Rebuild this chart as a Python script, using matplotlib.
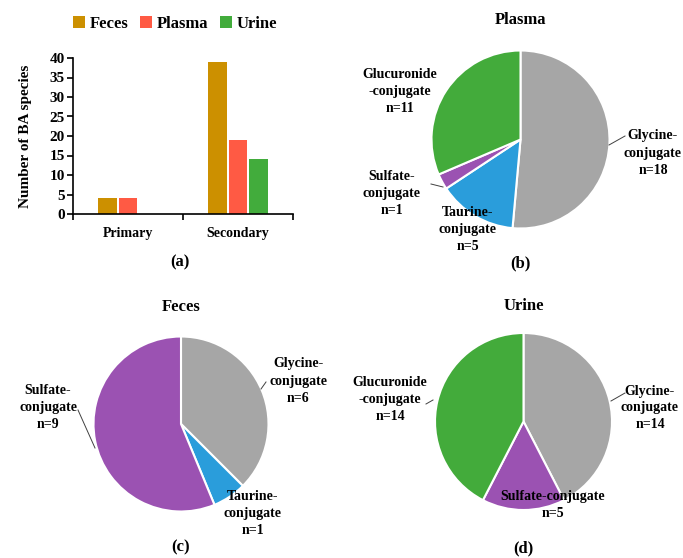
import matplotlib
matplotlib.use("Agg")
import matplotlib.pyplot as plt
import numpy as np

plt.rcParams['font.family'] = ['Liberation Serif', 'DejaVu Serif']
plt.rcParams['font.weight'] = 'bold'

# ---- data ----
bar_categories = ["Primary", "Secondary"]
bar_series = ["Feces", "Plasma", "Urine"]
feces_counts = [4, 39]
plasma_counts = [4, 19]
urine_counts = [0, 14]
bar_colors = ["#CC9000", "#FF5A44", "#42AC3C"]
y_ticks = [0, 5, 10, 15, 20, 25, 30, 35, 40]

plasma_labels = ["Glycine-\nconjugate\nn=18", "Taurine-\nconjugate\nn=5",
                 "Sulfate-\nconjugate\nn=1", "Glucuronide\n-conjugate\nn=11"]
plasma_values = [18, 5, 1, 11]
plasma_colors = ["#A6A6A6", "#2A9DDB", "#9B52B2", "#43AB3B"]

feces_labels = ["Glycine-\nconjugate\nn=6", "Taurine-\nconjugate\nn=1",
                "Sulfate-\nconjugate\nn=9"]
feces_values = [6, 1, 9]
feces_colors = ["#A6A6A6", "#2A9DDB", "#9B52B2"]

urine_labels = ["Glycine-\nconjugate\nn=14", "Sulfate-conjugate\nn=5",
                "Glucuronide\n-conjugate\nn=14"]
urine_values = [14, 5, 14]
urine_colors = ["#A6A6A6", "#9B52B2", "#43AB3B"]

W, H = 683, 558
fig = plt.figure(figsize=(W / 100, H / 100), dpi=100)
fig.patch.set_facecolor("white")


def px_axes(left, top, right, bottom):
    return fig.add_axes([left / W, 1 - bottom / H, (right - left) / W, (bottom - top) / H])


# ---- (a) bar chart ----
ax = px_axes(73, 58, 293, 214)
x = np.arange(len(bar_categories))
bw = 0.17
step = 0.185
for i, (vals, col, name) in enumerate(zip([feces_counts, plasma_counts, urine_counts], bar_colors, bar_series)):
    ax.bar(x + (i - 1) * step, vals, width=bw, color=col, label=name, zorder=2)
ax.set_xlim(-0.5, 1.5)
ax.set_ylim(0, 40)
ax.set_yticks(y_ticks)
ax.set_yticklabels([str(t) for t in y_ticks], fontsize=11, fontweight='bold')
ax.set_xticks([-0.5, 0.5, 1.5])
ax.set_xticklabels([])
ax.set_xticks(x, minor=True)
ax.set_xticklabels(bar_categories, minor=True, fontsize=10, fontweight='bold')
ax.tick_params(axis='x', which='major', direction='out', length=4, width=1.2)
ax.tick_params(axis='x', which='minor', length=0, pad=9)
ax.tick_params(axis='y', direction='out', length=4, width=1.2, pad=2)
for s in ['top', 'right']:
    ax.spines[s].set_visible(False)
for s in ['left', 'bottom']:
    ax.spines[s].set_linewidth(1.2)
ax.set_ylabel("Number of BA species", fontsize=11, fontweight='bold')
ax.yaxis.set_label_coords(-0.185, 0.5)
leg = fig.legend(loc='center', bbox_to_anchor=(175 / W, 1 - 24 / H), ncol=3, frameon=False,
                 prop={'size': 12, 'weight': 'bold'}, handlelength=0.7, handleheight=0.7,
                 handletextpad=0.3, columnspacing=0.7)
fig.text(180 / W, 1 - 262 / H, "(a)", ha='center', va='center', fontsize=12, fontweight='bold')


def draw_pie(cx, cy, r, values, colors, labels, label_px, leaders, title, title_y, tag, tag_y):
    a = px_axes(cx - r, cy - r, cx + r, cy + r)
    wedges, _ = a.pie(values, colors=colors, startangle=90, counterclock=False, radius=1,
                      wedgeprops=dict(edgecolor='white', linewidth=1.5))
    a.set_xlim(-1, 1)
    a.set_ylim(-1, 1)
    a.set_aspect('equal')
    a.axis('off')
    for lab, (lx, ly) in zip(labels, label_px):
        a.text((lx - cx) / r, (cy - ly) / r, lab, ha='center', va='center', fontsize=10,
               fontweight='bold', linespacing=1.4, clip_on=False)
    for (x0, y0), (x1, y1) in leaders:
        a.plot([(x0 - cx) / r, (x1 - cx) / r], [(cy - y0) / r, (cy - y1) / r],
               color='#404040', lw=0.7, clip_on=False)
    fig.text(cx / W, 1 - title_y / H, title, ha='center', va='center', fontsize=12, fontweight='bold')
    fig.text(cx / W, 1 - tag_y / H, tag, ha='center', va='center', fontsize=12, fontweight='bold')


# ---- (b) Plasma ----
draw_pie(520.5, 139.5, 89, plasma_values, plasma_colors, plasma_labels,
         [(653, 153), (468, 230), (392, 193), (400, 91)],
         [((609, 145), (625, 136)), ((431, 184), (443, 187))],
         "Plasma", 20, "(b)", 263)

# ---- (c) Feces ----
draw_pie(181, 424, 87.5, feces_values, feces_colors, feces_labels,
         [(298, 381), (253, 513), (48, 407)],
         [((261, 389), (266, 382)), ((78, 410), (95, 448))],
         "Feces", 307, "(c)", 547)

# ---- (d) Urine ----
draw_pie(523.5, 421.5, 88.5, urine_values, urine_colors, urine_labels,
         [(650, 408), (553, 505), (390, 400)],
         [((611, 401), (625, 393)), ((426, 404), (433, 400))],
         "Urine", 306, "(d)", 548)

fig.savefig("out.png", dpi=100, facecolor='white')
